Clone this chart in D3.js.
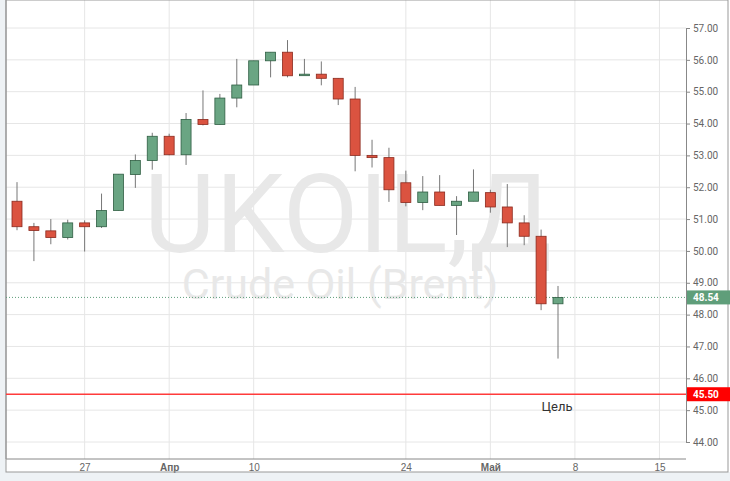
<!DOCTYPE html>
<html><head><meta charset="utf-8">
<script src="https://cdn.jsdelivr.net/npm/d3@7"></script>
<style>
body{margin:0;background:#fff;font-family:"Roboto","Liberation Sans",sans-serif;}
</style></head><body>
<svg id="c" width="730" height="481"></svg>
<script>
// candle data (index order)
var opens  = [51.56,50.76,50.63,50.42,50.88,50.76,51.27,52.40,52.84,53.60,53.02,54.13,53.97,54.80,55.21,55.97,56.24,55.52,55.55,55.42,54.77,53.00,52.93,52.14,51.52,51.85,51.43,51.56,51.83,51.38,50.88,50.46,48.34];
var closes = [50.76,50.64,50.42,50.88,50.76,51.27,52.41,52.84,53.60,53.02,54.13,53.97,54.80,55.21,55.97,56.24,55.50,55.55,55.42,54.77,53.00,52.93,51.92,51.52,51.85,51.43,51.56,51.85,51.38,50.88,50.46,48.34,48.54];
var highs  = [52.16,50.88,51.00,50.98,50.96,51.80,52.41,53.03,53.71,53.68,54.33,55.04,54.93,56.03,55.97,56.24,56.62,56.03,55.95,55.42,55.15,53.49,53.24,52.52,52.35,52.38,51.72,52.56,51.92,52.10,51.12,50.67,48.90];
var lows   = [50.65,49.68,50.21,50.36,49.98,50.72,51.27,51.98,52.55,53.00,52.70,53.94,53.97,54.51,55.21,55.45,55.45,55.52,55.20,54.58,52.50,52.62,51.54,51.40,51.28,51.43,50.50,51.56,51.20,50.12,50.18,48.14,46.62];
var tickPos = [4,9,14,23,28,33,38];
var tickLabels = ["27","Апр","10","24","Май","8","15"];
var boldTicks = ["Апр","Май"];
var priceTicks = d3.range(44,58);
var lastPrice = 48.54, target = 45.50;

var svg = d3.select("#c");
var L=6, R=686, T=0, B=459;
svg.append("rect").attr("width",730).attr("height",481).attr("fill","#eef2f5");
svg.append("rect").attr("x",L).attr("y",T).attr("width",730-L).attr("height",472).attr("fill","#fff");

var x = d3.scaleLinear().domain([0,32]).range([17,558]);
var y = d3.scaleLinear().domain([44,57]).range([442,28]);

var g = svg.append("g");
g.selectAll(".hg").data(priceTicks).enter().append("line")
  .attr("x1",L).attr("x2",R).attr("y1",d=>y(d)).attr("y2",d=>y(d))
  .attr("stroke","#e6e6e6");
g.selectAll(".vg").data(tickPos).enter().append("line")
  .attr("y1",T).attr("y2",B).attr("x1",d=>x(d)).attr("x2",d=>x(d))
  .attr("stroke","#e6e6e6");

// watermark
svg.append("text").attr("x",348).attr("y",252).attr("text-anchor","middle")
  .attr("font-size",110).attr("fill","#e8e8e8").text("UKOIL,Д");
svg.append("text").attr("x",340).attr("y",299).attr("text-anchor","middle")
  .attr("font-size",43).attr("fill","#e8e8e8").text("Crude Oil (Brent)");

// axes
var ya = d3.axisRight(y).tickValues(priceTicks).tickFormat(d3.format(".2f")).tickSize(4);
svg.append("g").attr("transform","translate("+R+",0)").call(ya)
  .call(a=>{a.select(".domain").attr("stroke","#888");a.selectAll("line").attr("stroke","#888");
    a.selectAll("text").attr("fill","#666").attr("font-size",10).attr("font-family","Roboto,sans-serif");});
var xa = d3.axisBottom(x).tickValues(tickPos).tickFormat((d,i)=>tickLabels[i]).tickSize(0);
svg.append("g").attr("transform","translate(0,"+B+")").call(xa)
  .call(a=>{a.select(".domain").remove();
    a.selectAll("text").attr("fill","#666").attr("font-size",10).attr("dy","0.9em")
     .attr("font-weight",d=>boldTicks.indexOf(tickLabels[tickPos.indexOf(d)])>=0?"bold":"normal");});
svg.append("line").attr("x1",L).attr("x2",R).attr("y1",B).attr("y2",B).attr("stroke","#888");
svg.append("line").attr("x1",L).attr("x2",L).attr("y1",0).attr("y2",B).attr("stroke","#888");
svg.append("rect").attr("x",L).attr("y",0).attr("width",730-L-2).attr("height",472)
  .attr("fill","none").attr("stroke","#999");

// last price line
svg.append("line").attr("x1",L).attr("x2",R).attr("y1",y(lastPrice)).attr("y2",y(lastPrice))
  .attr("stroke","#5f9e7a").attr("stroke-dasharray","1,2");
// target line
svg.append("line").attr("x1",L).attr("x2",R).attr("y1",y(target)).attr("y2",y(target))
  .attr("stroke","#ff3b3b").attr("stroke-width",1.5);
svg.append("text").attr("x",557).attr("y",y(target)+17).attr("text-anchor","middle")
  .attr("font-size",13).attr("font-weight","normal").attr("fill","#333").text("Цель");

// candles
var idx = d3.range(opens.length);
var cg = svg.append("g").selectAll("g").data(idx).enter().append("g");
cg.append("line").attr("x1",i=>x(i)).attr("x2",i=>x(i))
  .attr("y1",i=>y(highs[i])).attr("y2",i=>y(lows[i])).attr("stroke","#777");
cg.append("rect").attr("x",i=>x(i)-5).attr("width",10)
  .attr("y",i=>y(Math.max(opens[i],closes[i])))
  .attr("height",i=>Math.max(1.5,Math.abs(y(opens[i])-y(closes[i]))))
  .attr("fill",i=>closes[i]>=opens[i]?"#6aa583":"#db5340")
  .attr("stroke",i=>closes[i]>=opens[i]?"#2f5e43":"#8b2a1e").attr("stroke-width",0.8);

// price labels
function tag(v,col){
  svg.append("rect").attr("x",R+1).attr("y",y(v)-7).attr("width",730-R-1).attr("height",14).attr("fill",col);
  svg.append("text").attr("x",R+7).attr("y",y(v)+4).attr("font-size",10).attr("font-weight","bold")
    .attr("fill","#fff").text(v.toFixed(2));
}
tag(lastPrice,"#5f9e7a");
tag(target,"#ff0000");
</script></body></html>
